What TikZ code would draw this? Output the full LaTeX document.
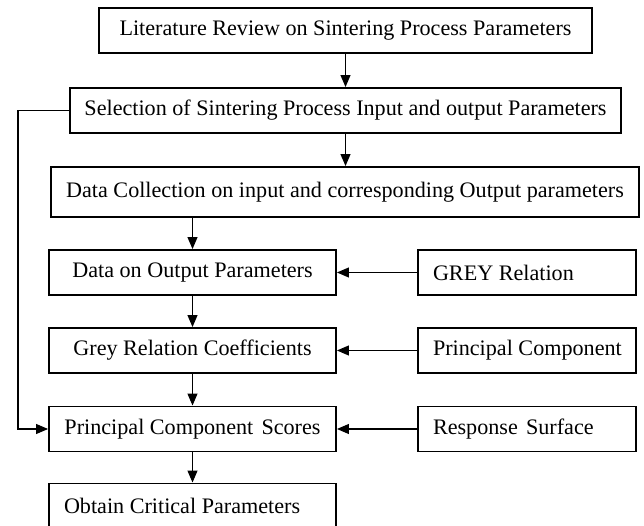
\documentclass[tikz,border=0pt]{standalone}
\usepackage{fontspec}
\setmainfont{Liberation Serif}
\usetikzlibrary{arrows.meta}
\newcommand{\flowLeft}[2]{\makebox[#1][l]{#2}}
\begin{document}
\begin{tikzpicture}[
    flowBox/.style={draw,line width=1.1pt,minimum height=0.9cm,inner sep=0pt,
        font=\fontsize{12.6}{15}\selectfont},
    flowSide/.style={flowBox,minimum width=4.36cm},
    flowArr/.style={-{Triangle[length=2.4mm,width=2.0mm]},line width=0.6pt},
]
\useasboundingbox (0,0) rectangle (12.88,-10.52);
% Main chain
\node[flowBox,minimum width=9.86cm] (lit) at (6.91,-0.61) {Literature Review on Sintering Process Parameters};
\node[flowBox,minimum width=11.02cm] (sel) at (6.91,-2.21) {Selection of Sintering Process Input and output Parameters};
\node[flowBox,minimum width=11.76cm,minimum height=1.0cm] (dc) at (6.90,-3.84) {Data Collection on input and corresponding Output parameters};
\node[flowBox,minimum width=5.74cm] (dop) at (3.85,-5.45) {Data on Output Parameters};
\node[flowBox,minimum width=5.74cm] (grc) at (3.85,-7.01) {Grey Relation Coefficients};
\node[flowBox,minimum width=5.74cm] (pcs) at (3.85,-8.58) {Principal Component\hspace{0.12em} Scores};
\node[flowBox,minimum width=5.74cm] (obt) at (3.85,-10.12) {\flowLeft{5.14cm}{Obtain Critical Parameters}};
% Methods
\node[flowSide] (grey) at (10.54,-5.45) {\flowLeft{3.76cm}{GREY Relation}};
\node[flowSide] (pca) at (10.54,-7.01) {\flowLeft{3.76cm}{Principal Component}};
\node[flowSide] (rsm) at (10.54,-8.58) {\flowLeft{3.76cm}{Response\hspace{0.12em} Surface}};
% Arrows
\draw[flowArr] (lit.south) -- (sel.north);
\draw[flowArr] (sel.south) -- (sel.south |- dc.north);
\draw[flowArr] (dop.north |- dc.south) -- (dop.north);
\draw[flowArr] (dop) -- (grc);
\draw[flowArr] (grc) -- (pcs);
\draw[flowArr] (pcs) -- (obt);
\draw[flowArr] (grey) -- (dop);
\draw[flowArr] (pca) -- (grc);
\draw[flowArr] (rsm) -- (pcs);
% Feedback line
\coordinate (fbk) at (0.36,-2.21);
\draw[flowArr] (sel.west) -- (fbk) |- (pcs.west);
\end{tikzpicture}
\end{document}
